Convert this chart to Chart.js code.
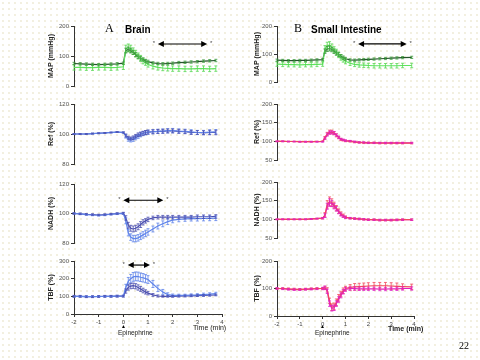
<!DOCTYPE html>
<html>
<head>
<meta charset="utf-8">
<script src="https://cdn.jsdelivr.net/npm/chart.js@4.4.0/dist/chart.umd.min.js"></script>
<style>
html, body { margin: 0; padding: 0; }
body {
  width: 480px; height: 360px; position: relative; overflow: hidden;
  background: #fff;
  background-image: radial-gradient(circle, #f2efdf 0.7px, transparent 1px);
  background-size: 6px 6px;
  font-family: "Liberation Sans", Arial, sans-serif;
}
canvas { position: absolute; }
.t { position: absolute; white-space: nowrap; line-height: 1; color: #000; will-change: transform; }
.serif { font-family: "Liberation Serif", "DejaVu Serif", serif; }
</style>
</head>
<body>
<div class="t serif" style="left:105px;top:22px;font-size:12px;">A</div>
<div class="t" style="left:125px;top:25px;font-size:10px;font-weight:bold;">Brain</div>
<div class="t serif" style="left:294px;top:22px;font-size:12px;">B</div>
<div class="t" style="left:311px;top:25px;font-size:10px;font-weight:bold;">Small Intestine</div>
<div class="t" style="left:193px;top:324px;font-size:7px;color:#222;">Time (min)</div>
<div class="t" style="left:388px;top:325px;font-size:7px;font-weight:bold;color:#222;">Time (min)</div>
<div class="t" style="left:121px;top:324px;font-size:5px;">&#9650;</div>
<div class="t" style="left:118px;top:330px;font-size:6.5px;color:#222;">Epinephrine</div>
<div class="t" style="left:320px;top:324px;font-size:5px;">&#9650;</div>
<div class="t" style="left:315px;top:330px;font-size:6.5px;color:#222;">Epinephrine</div>
<div class="t serif" style="left:459px;top:341px;font-size:10px;">22</div>
<script>
// time points (min)
const timesA = [-2,-1.75,-1.5,-1.25,-1,-0.75,-0.5,-0.25,0,0.1,0.2,0.3,0.4,0.5,0.6,0.7,0.8,0.9,1,1.2,1.4,1.6,1.8,2,2.25,2.5,2.75,3,3.25,3.5,3.75];
const timesB = [-2,-1.75,-1.5,-1.25,-1,-0.75,-0.5,-0.25,0,0.1,0.2,0.3,0.4,0.5,0.6,0.7,0.8,0.9,1,1.2,1.4,1.6,1.8,2,2.25,2.5,2.75,3,3.25,3.5,3.9];

// Brain
const mapBrainDark     = [75,74,73,72,71,72,73,74,76,118,122,118,112,105,98,92,88,84,81,77,75,74,75,76,78,79,80,81,83,84,85];
const mapBrainDarkErr  = [4,4,4,4,4,4,4,4,4,8,8,8,7,7,6,6,5,5,5,4,4,4,4,4,4,4,4,4,4,4,4];
const mapBrainLight    = [62,62,61,61,62,62,61,62,64,124,128,124,116,108,100,92,84,78,72,66,62,60,59,58,58,57,57,58,58,57,58];
const mapBrainLightErr = [9,9,9,9,9,9,9,9,9,12,12,12,11,11,10,10,10,9,9,9,9,9,9,9,9,9,9,9,9,9,9];

const refBrainDark     = [100,100,100,100.3,100.5,100.7,101,101.3,101,99,97.5,97,97.5,98.5,99.5,100,100.5,101,101.3,101.5,101.7,101.8,102,102,101.8,101.5,101,101,100.8,101,101];
const refBrainDarkErr  = [0.3,0.3,0.3,0.3,0.3,0.3,0.3,0.3,0.4,1,1,1,1.2,1.2,1.2,1.3,1.3,1.3,1.3,1.3,1.3,1.3,1.3,1.3,1.3,1.3,1.3,1.3,1.3,1.5,1.5];
const refBrainLight    = [100,100,100,100.3,100.5,100.7,101,101.3,101,98.5,96.5,96,96.5,97.5,98.5,99.5,100.3,100.8,101.2,101.5,101.8,102,102.2,102.3,102,101.8,101.5,101,101,101.3,101.5];
const refBrainLightErr = [0.3,0.3,0.3,0.3,0.3,0.3,0.3,0.3,0.4,1.2,1.3,1.3,1.4,1.4,1.4,1.4,1.4,1.4,1.4,1.4,1.4,1.4,1.4,1.4,1.4,1.4,1.4,1.4,1.4,1.5,1.5];

const nadhBrainDark     = [100,99.8,99.5,99.3,99,99.3,99.6,100,100.2,97,92,90,89.5,90,91,92.5,94,95,96,97,97.5,97.5,97.5,97.5,97.5,97.5,97.5,97.8,97.8,97.8,98];
const nadhBrainDarkErr  = [0.5,0.5,0.5,0.5,0.5,0.5,0.5,0.5,0.6,1.5,2,2,2,2,2,2,1.8,1.5,1.5,1.2,1.2,1.2,1.2,1.2,1.2,1.2,1.2,1.2,1.2,1.2,1.2];
const nadhBrainLight    = [100,99.7,99.3,99,98.8,99,99.5,99.8,100,95,87,84,83,83,83.5,84.5,85.5,86.5,87.5,89.5,91.5,93,94.5,95.5,96,96.3,96.5,96.5,96.6,96.7,96.8];
const nadhBrainLightErr = [0.5,0.5,0.5,0.5,0.5,0.5,0.5,0.5,0.6,2,2.2,2.2,2.2,2.2,2.2,2.2,2.2,2.2,2.2,2,2,2,2,1.8,1.6,1.6,1.6,1.6,1.6,1.6,1.6];

const tbfBrainDark     = [100,100,98,98,99,100,100,101,101,130,150,158,160,157,150,142,133,125,118,108,102,100,100,100,101,102,103,104,105,106,108];
const tbfBrainDarkErr  = [5,5,5,5,5,5,5,5,5,12,15,15,15,15,15,14,13,12,10,8,6,5,5,5,5,5,5,5,5,5,5];
const tbfBrainLight    = [100,100,98,98,99,100,100,101,102,150,185,200,210,213,212,208,205,200,195,170,145,125,110,105,105,105,107,108,110,112,115];
const tbfBrainLightErr = [5,5,5,5,5,5,5,5,5,18,22,24,25,25,25,24,24,23,22,20,18,14,10,8,7,7,7,7,8,8,8];

// Small intestine
const mapIntDark     = [78,77,76,76,77,77,78,79,80,110,118,120,116,110,104,98,92,87,83,79,78,79,80,81,82,83,84,85,86,87,88];
const mapIntDarkErr  = [4,4,4,4,4,4,4,4,4,8,9,9,8,8,7,7,6,6,5,4,4,4,4,4,4,4,4,4,4,4,4];
const mapIntLight    = [64,63,62,62,61,62,62,63,64,118,130,132,124,115,106,97,88,80,74,67,63,61,60,59,58,58,58,58,58,59,59];
const mapIntLightErr = [8,8,8,8,8,8,8,8,8,12,12,12,12,11,11,10,10,9,9,8,8,8,8,8,8,8,8,8,8,8,8];

const refIntMag    = [100,100,99.5,99.5,99,99,99,99,99,108,118,123,124,122,117,111,106,104,102,101,99,97,97,96,96,96,96,96,96,96,96];
const refIntMagErr = [1,1,1,1,1,1,1,1,1,3,4,4,4,4,3,3,2,2,2,1.5,1.5,1.5,1.5,1.5,1.5,1.5,1.5,1.5,1.5,1.5,1.5];
const refIntRed    = [100,100,99.5,99.5,99,99,99,99.5,100,110,120,125,125,122,116,110,105,103,101,100,98,97,96,96,96,95,95,95,95,95,95];
const refIntRedErr = [1,1,1,1,1,1,1,1,1,3,4,5,5,4,4,3,3,2,2,2,2,2,2,2,2,2,2,2,2,2,2];

const nadhIntMag    = [100,100,100,100,100,100,101,102,103,110,135,145,142,135,128,120,113,108,105,103,102,101,100,99,99,98,98,98,98.5,99,99];
const nadhIntMagErr = [1,1,1,1,1,1,1,1,2,5,8,10,8,7,6,5,4,3,3,2,2,2,2,2,2,2,2,2,2,2,2];
const nadhIntRed    = [100,100,100,100,100,100,101,102,103,112,140,148,145,138,130,122,115,110,106,103,102,101,100,99,99,98,98,98,98.5,99,99];
const nadhIntRedErr = [1,1,1,1,1,1,1,1,2,6,10,12,10,8,7,6,5,4,3,2,2,2,2,2,2,2,2,2,2,2,2];

const tbfIntMag    = [100,99,97,96,96,97,98,99,100,103,90,45,28,30,45,60,75,88,97,100,100,99,99,99,99,98,98,99,99,100,100];
const tbfIntMagErr = [3,3,3,3,3,3,3,3,4,6,8,10,10,10,10,10,9,8,7,6,6,6,6,6,6,6,6,6,6,6,6];
const tbfIntRed    = [100,100,99,98,97,98,99,100,100,102,95,55,32,35,50,66,80,92,100,104,106,107,108,109,110,110,110,109,108,107,106];
const tbfIntRedErr = [3,3,3,3,3,3,3,3,4,6,8,10,12,12,12,12,10,10,8,10,12,12,12,12,12,12,12,12,12,10,10];

// significance arrows: [start time, end time, value]
const arrowMapBrain  = [1.4, 3.4, 140];
const arrowNadhBrain = [0, 1.62, 109];
const arrowTbfBrain  = [0.18, 1.08, 277];
const arrowMapInt    = [1.55, 3.68, 136];

const errorBars = {
  id: 'errorBars',
  afterDatasetsDraw(chart) {
    const { ctx, scales: { x, y } } = chart;
    chart.data.datasets.forEach(ds => {
      ctx.save();
      ctx.strokeStyle = ds.errColor;
      ctx.lineWidth = 0.8;
      ds.data.forEach((p, i) => {
        const px = x.getPixelForValue(p.x);
        const lo = y.getPixelForValue(p.y - ds.errs[i]);
        const hi = y.getPixelForValue(p.y + ds.errs[i]);
        ctx.beginPath();
        ctx.moveTo(px, lo); ctx.lineTo(px, hi);
        ctx.moveTo(px - 1.5, lo); ctx.lineTo(px + 1.5, lo);
        ctx.moveTo(px - 1.5, hi); ctx.lineTo(px + 1.5, hi);
        ctx.stroke();
      });
      ctx.restore();
    });
  }
};

const arrows = {
  id: 'arrows',
  afterDraw(chart, args, opts) {
    const a = opts.span;
    if (!a) return;
    const { ctx, scales: { x, y } } = chart;
    const x1 = x.getPixelForValue(a[0]), x2 = x.getPixelForValue(a[1]), py = y.getPixelForValue(a[2]);
    ctx.save();
    ctx.strokeStyle = '#000';
    ctx.fillStyle = '#000';
    ctx.lineWidth = 1.2;
    ctx.beginPath(); ctx.moveTo(x1 + 3, py); ctx.lineTo(x2 - 3, py); ctx.stroke();
    ctx.beginPath(); ctx.moveTo(x1, py); ctx.lineTo(x1 + 6, py - 3); ctx.lineTo(x1 + 6, py + 3); ctx.closePath(); ctx.fill();
    ctx.beginPath(); ctx.moveTo(x2, py); ctx.lineTo(x2 - 6, py - 3); ctx.lineTo(x2 - 6, py + 3); ctx.closePath(); ctx.fill();
    ctx.fillStyle = '#444';
    ctx.font = '6px "Liberation Sans"';
    ctx.textAlign = 'center';
    ctx.fillText('*', x1 - 4, py + 1);
    ctx.fillText('*', x2 + 4, py + 1);
    ctx.restore();
  }
};

const blueDark = '#4b4fb0', blueLight = '#5f84ea';
const mag = '#e01fc6', red = '#f2485c';

const panels = [
  { times: timesA, left: 74, right: 222, top: 26, bottom: 86, yW: 27, min: 0, max: 200, step: 100, title: 'MAP (mmHg)', arrow: arrowMapBrain,
    series: [[mapBrainLight, mapBrainLightErr, '#5fe35f', '#55d84f'], [mapBrainDark, mapBrainDarkErr, '#24552a', '#3c9a3c']] },
  { times: timesA, left: 74, right: 222, top: 104, bottom: 164, yW: 27, min: 80, max: 120, step: 20, title: 'Ref (%)',
    series: [[refBrainLight, refBrainLightErr, blueLight, blueLight], [refBrainDark, refBrainDarkErr, blueDark, blueDark]] },
  { times: timesA, left: 74, right: 222, top: 184, bottom: 243, yW: 27, min: 80, max: 120, step: 20, title: 'NADH (%)', arrow: arrowNadhBrain,
    series: [[nadhBrainLight, nadhBrainLightErr, blueLight, blueLight], [nadhBrainDark, nadhBrainDarkErr, blueDark, blueDark]] },
  { times: timesA, left: 74, right: 222, top: 261, bottom: 314, yW: 27, min: 0, max: 300, step: 100, title: 'TBF (%)', arrow: arrowTbfBrain, xAxis: true,
    series: [[tbfBrainLight, tbfBrainLightErr, blueLight, blueLight], [tbfBrainDark, tbfBrainDarkErr, blueDark, blueDark]] },
  { times: timesB, left: 277, right: 414, top: 26, bottom: 82, yW: 24, min: 0, max: 200, step: 100, title: 'MAP (mmHg)', arrow: arrowMapInt,
    series: [[mapIntLight, mapIntLightErr, '#5fe35f', '#55d84f'], [mapIntDark, mapIntDarkErr, '#24552a', '#3c9a3c']] },
  { times: timesB, left: 277, right: 414, top: 104, bottom: 160, yW: 24, min: 50, max: 200, step: 50, title: 'Ref (%)',
    series: [[refIntRed, refIntRedErr, red, red], [refIntMag, refIntMagErr, mag, mag]] },
  { times: timesB, left: 277, right: 414, top: 182, bottom: 238, yW: 24, min: 50, max: 200, step: 50, title: 'NADH (%)',
    series: [[nadhIntRed, nadhIntRedErr, red, red], [nadhIntMag, nadhIntMagErr, mag, mag]] },
  { times: timesB, left: 277, right: 414, top: 261, bottom: 316, yW: 24, min: 0, max: 200, step: 100, title: 'TBF (%)', xAxis: true,
    series: [[tbfIntRed, tbfIntRedErr, red, red], [tbfIntMag, tbfIntMagErr, mag, mag]] }
];

Chart.defaults.font.family = '"Liberation Sans", Arial, sans-serif';
Chart.defaults.font.size = 6;

function makePanel(p) {
  const padT = 8, padR = 8;
  const padB = p.xAxis ? 0 : 8;
  const xH = p.xAxis ? 14 : 0;
  const cv = document.createElement('canvas');
  cv.width = p.right - p.left + p.yW + padR;
  cv.height = p.bottom - p.top + padT + padB + xH;
  cv.style.left = (p.left - p.yW) + 'px';
  cv.style.top = (p.top - padT) + 'px';
  document.body.appendChild(cv);

  new Chart(cv, {
    type: 'line',
    data: {
      datasets: p.series.map(s => ({
        data: p.times.map((t, i) => ({ x: t, y: s[0][i] })),
        errs: s[1],
        borderColor: s[2],
        errColor: s[3],
        borderWidth: 1.2,
        pointRadius: 0,
        tension: 0
      }))
    },
    options: {
      responsive: false,
      animation: false,
      devicePixelRatio: 1,
      layout: { padding: { top: padT, right: padR, bottom: padB, left: 0 } },
      plugins: { legend: { display: false }, tooltip: { enabled: false }, arrows: { span: p.arrow } },
      scales: {
        x: {
          type: 'linear', min: -2, max: 4, display: !!p.xAxis,
          afterFit: s => { s.height = xH; },
          ticks: { stepSize: 1, padding: 2, color: '#444', maxRotation: 0 },
          grid: { drawOnChartArea: false, tickLength: 3, color: '#333' },
          border: { color: '#333' }
        },
        y: {
          min: p.min, max: p.max,
          afterFit: s => { s.width = p.yW; },
          ticks: { stepSize: p.step, padding: 2, color: '#555' },
          grid: { drawOnChartArea: false, tickLength: 3, color: '#333' },
          border: { color: '#333' },
          title: { display: true, text: p.title, color: '#222', font: { size: 7, weight: 'bold' }, padding: { top: 0, bottom: 0 } }
        }
      }
    },
    plugins: [errorBars, arrows]
  });
}

panels.forEach(makePanel);
</script>
</body>
</html>
